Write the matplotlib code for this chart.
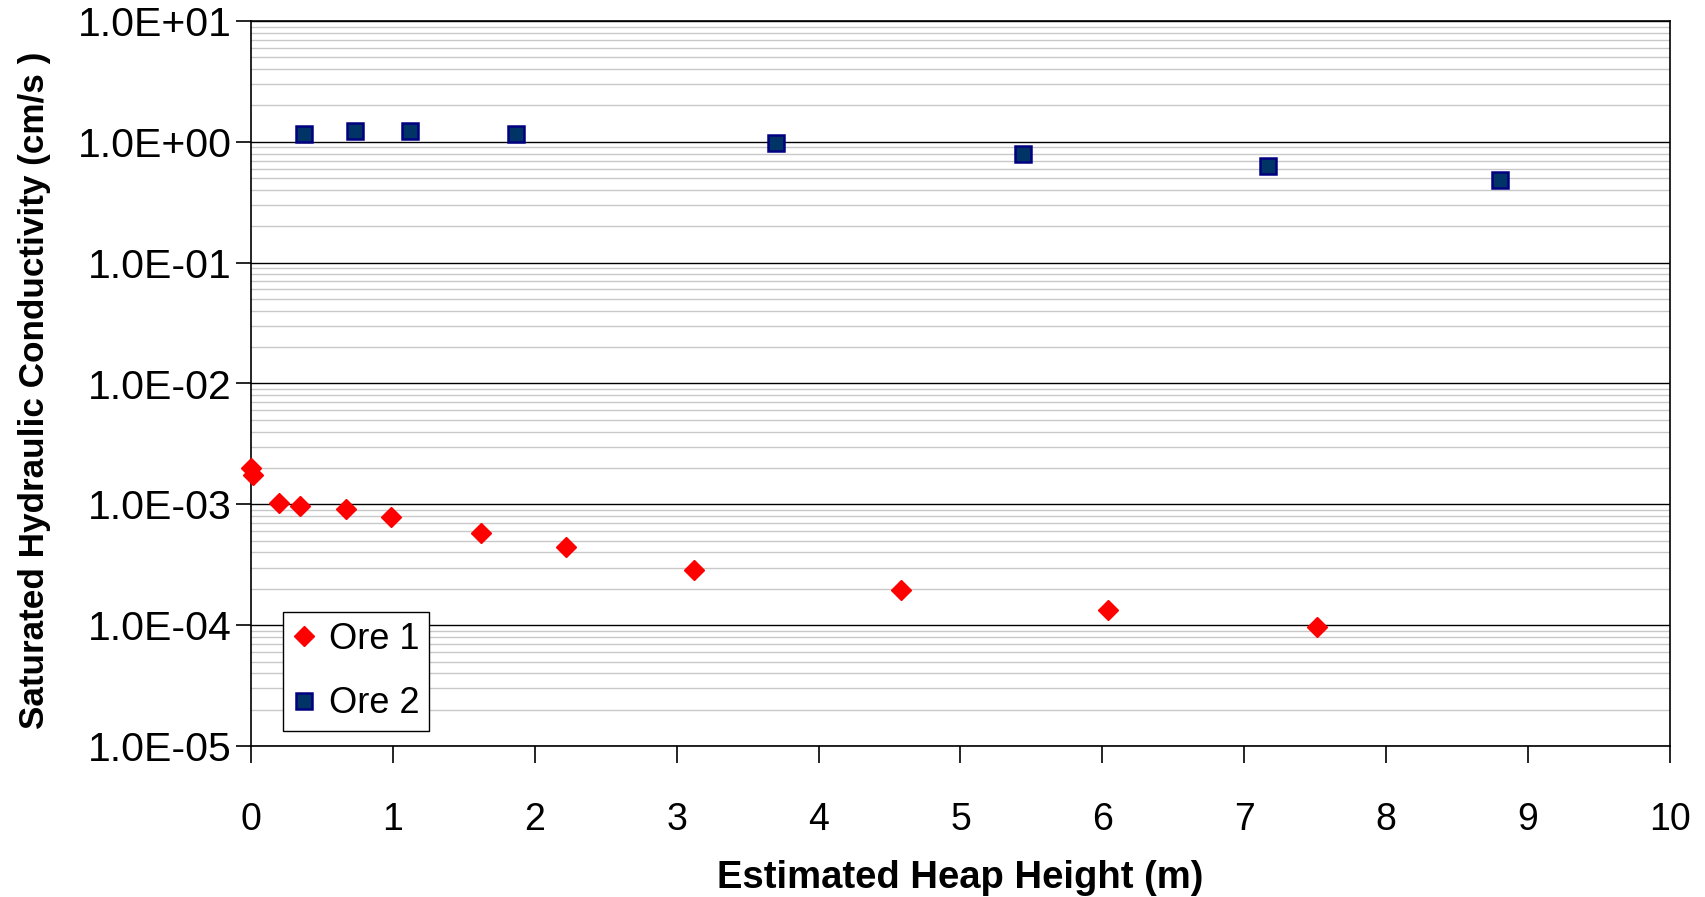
import matplotlib
matplotlib.use("Agg")
import matplotlib.pyplot as plt
from matplotlib.ticker import LogLocator, FixedLocator, NullFormatter

plt.rcParams['font.family'] = ['Liberation Sans', 'DejaVu Sans']

# Data
ore1_x = [0.0, 0.015, 0.20, 0.345, 0.667, 0.99, 1.62, 2.22, 3.12, 4.58, 6.04, 7.51]
ore1_y = [1.98e-3, 1.75e-3, 1.02e-3, 0.96e-3, 0.92e-3, 0.78e-3, 0.58e-3, 0.445e-3,
          0.288e-3, 0.194e-3, 0.134e-3, 0.096e-3]
ore2_x = [0.376, 0.736, 1.12, 1.87, 3.70, 5.44, 7.17, 8.80]
ore2_y = [1.16, 1.23, 1.23, 1.16, 0.98, 0.80, 0.63, 0.48]

x_ticks = [0, 1, 2, 3, 4, 5, 6, 7, 8, 9, 10]
y_ticks = [1e-5, 1e-4, 1e-3, 1e-2, 1e-1, 1e0, 1e1]
y_tick_labels = ["1.0E-05", "1.0E-04", "1.0E-03", "1.0E-02", "1.0E-01", "1.0E+00", "1.0E+01"]

fig = plt.figure(figsize=(17.06, 8.97), dpi=100)
ax = fig.add_axes([251/1706, 1-746/897, 1419/1706, 725/897])

ax.set_yscale('log')
ax.set_xlim(0, 10)
ax.set_ylim(1e-5, 1e1)

ax.yaxis.set_major_locator(FixedLocator(y_ticks))
ax.set_yticklabels(y_tick_labels)
ax.yaxis.set_minor_locator(LogLocator(base=10, subs=range(2, 10), numticks=100))
ax.yaxis.set_minor_formatter(NullFormatter())
ax.set_xticks(x_ticks)
ax.set_xticklabels([str(t) for t in x_ticks])

ax.grid(True, which='minor', axis='y', color='#c8c8c8', linewidth=1.0)
ax.grid(True, which='major', axis='y', color='black', linewidth=1.0)
ax.set_axisbelow(True)

ax.tick_params(axis='y', which='major', direction='out', length=11, width=1.2,
               labelsize=29.5, pad=3)
ax.tick_params(axis='y', which='minor', length=0)
ax.tick_params(axis='x', which='major', direction='out', length=12, width=1.2,
               labelsize=27, pad=28)
for s in ax.spines.values():
    s.set_color('black')
    s.set_linewidth(1.2)

ax.plot(ore1_x, ore1_y, linestyle='none', marker='D', markersize=10,
        markerfacecolor='#ff0000', markeredgecolor='#ff0000', label='Ore 1',
        clip_on=False, zorder=3)
ax.plot(ore2_x, ore2_y, linestyle='none', marker='s', markersize=12,
        markerfacecolor='#003366', markeredgecolor='#000080', markeredgewidth=1.8,
        label='Ore 2', clip_on=False, zorder=3)

ax.set_xlabel('Estimated Heap Height (m)', fontsize=27.5, fontweight='bold', labelpad=16)
ax.set_ylabel('Saturated Hydraulic Conductivity (cm/s )', fontsize=25.3, fontweight='bold')
ax.yaxis.set_label_coords(-0.141, 0.49)

leg = ax.legend(loc='lower left', bbox_to_anchor=(0.0226, 0.0207), borderaxespad=0,
                fontsize=26, frameon=True, fancybox=False, framealpha=1,
                edgecolor='black', handlelength=0.6, handletextpad=0.4,
                labelspacing=0.82, borderpad=0.27)
leg.get_frame().set_linewidth(1.0)

fig.savefig('out.png', dpi=100)
